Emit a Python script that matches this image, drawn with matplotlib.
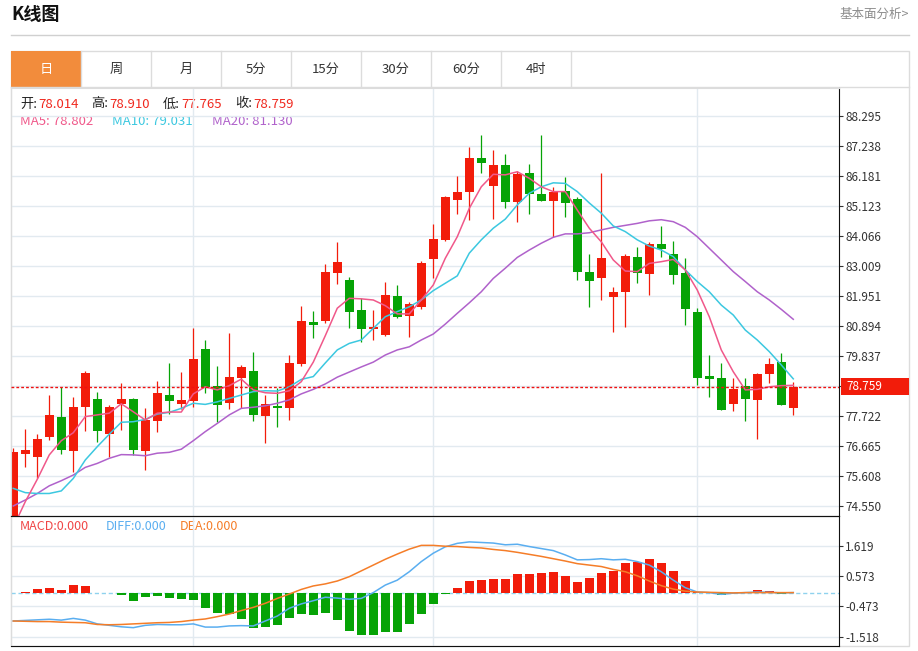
import matplotlib
matplotlib.use('Agg')
import matplotlib.pyplot as plt
import matplotlib.transforms as mtrans
from matplotlib.patches import Rectangle
import numpy as np

plt.rcParams['font.family'] = ['Noto Sans CJK SC', 'DejaVu Sans']

# K线数据 (日线)
opens = [74.00, 76.39, 76.28, 76.97, 77.69, 76.49, 78.04, 78.33, 77.09, 78.15,
         78.32, 76.49, 77.54, 78.45, 78.14, 78.25, 80.07, 78.77, 78.18, 79.05,
         79.30, 77.72, 78.07, 77.99, 79.56, 81.02, 81.06, 82.75, 82.51, 81.47,
         80.80, 80.58, 81.95, 81.25, 81.57, 83.27, 83.92, 85.34, 85.62, 86.82,
         85.83, 86.58, 85.25, 86.30, 85.56, 85.31, 85.66, 85.37, 82.79, 82.59,
         81.93, 82.10, 83.33, 82.74, 83.78, 83.43, 82.76, 81.40, 79.13, 79.07,
         78.13, 78.79, 78.27, 79.19, 79.61, 78.014]
highs = [76.59, 77.26, 77.08, 78.46, 78.75, 78.40, 79.31, 78.57, 78.11, 78.89,
         78.37, 78.00, 78.95, 79.59, 79.26, 80.82, 80.39, 79.47, 80.66, 79.52,
         79.98, 78.45, 78.70, 79.88, 81.60, 81.41, 83.07, 83.85, 82.63, 81.89,
         81.45, 82.44, 82.34, 81.74, 83.20, 84.48, 85.47, 86.18, 87.19, 87.61,
         87.10, 86.97, 86.36, 86.61, 87.63, 85.80, 86.16, 85.45, 83.43, 86.28,
         82.26, 83.42, 83.69, 83.84, 84.42, 83.89, 83.28, 81.54, 79.86, 79.58,
         79.07, 79.07, 79.25, 79.77, 79.95, 78.910]
lows = [73.90, 75.92, 75.52, 76.87, 76.37, 75.76, 77.19, 76.82, 76.29, 77.22,
        76.34, 75.82, 77.16, 77.78, 77.96, 78.04, 78.54, 77.52, 77.98, 78.01,
        77.56, 76.78, 77.33, 77.59, 79.48, 80.48, 81.01, 82.38, 80.83, 80.32,
        80.40, 80.54, 81.18, 80.52, 81.49, 82.60, 83.89, 84.84, 84.63, 86.30,
        84.68, 85.06, 84.55, 84.83, 85.30, 84.02, 84.74, 82.51, 81.55, 81.81,
        80.69, 80.86, 82.42, 81.99, 83.34, 82.38, 80.94, 78.81, 78.39, 77.93,
        77.90, 77.54, 76.90, 78.89, 78.11, 77.765]
closes = [76.45, 76.52, 76.92, 77.76, 76.52, 78.05, 79.23, 77.18, 78.03, 78.32,
          76.51, 77.59, 78.52, 78.25, 78.27, 79.74, 78.74, 78.11, 79.10, 79.45,
          77.77, 78.13, 77.99, 79.59, 81.06, 80.94, 82.81, 83.14, 81.40, 80.78,
          80.86, 81.99, 81.22, 81.68, 83.10, 83.97, 85.44, 85.63, 86.83, 86.64,
          86.56, 85.27, 86.26, 85.56, 85.31, 85.63, 85.24, 82.81, 82.48, 83.29,
          82.10, 83.36, 82.77, 83.77, 83.60, 82.69, 81.48, 79.07, 79.01, 77.94,
          78.66, 78.32, 79.20, 79.55, 78.12, 78.759]

ma5 = [73.80, 74.70, 75.49, 76.35, 76.85, 77.13, 77.70, 77.76, 77.82, 78.15,
       77.87, 77.58, 77.82, 77.86, 77.86, 78.50, 78.75, 78.64, 78.79, 79.02,
       78.64, 78.54, 78.52, 78.61, 78.93, 79.62, 80.55, 81.52, 81.87, 81.85,
       81.81, 81.61, 81.32, 81.32, 81.81, 82.34, 83.28, 84.04, 85.04, 85.80,
       86.24, 86.22, 86.33, 86.10, 85.80, 85.63, 85.63, 84.98, 84.34, 83.86,
       83.22, 82.83, 82.81, 83.10, 83.16, 83.24, 82.87, 82.16, 81.22, 80.05,
       79.28, 78.64, 78.66, 78.75, 78.79, 78.802]
ma10 = [75.17, 75.02, 74.99, 74.99, 75.08, 75.52, 76.17, 76.64, 77.08, 77.50,
        77.52, 77.60, 77.79, 77.85, 77.99, 78.17, 78.13, 78.22, 78.34, 78.46,
        78.58, 78.61, 78.60, 78.75, 79.01, 79.11, 79.59, 80.05, 80.28, 80.40,
        80.81, 81.22, 81.40, 81.57, 81.81, 82.14, 82.40, 82.66, 83.46, 83.93,
        84.34, 84.66, 85.16, 85.57, 85.80, 85.94, 85.92, 85.63, 85.23, 84.87,
        84.42, 84.22, 83.93, 83.71, 83.57, 83.34, 82.87, 82.46, 82.10, 81.63,
        81.28, 80.75, 80.40, 79.99, 79.52, 79.031]
ma20 = [74.55, 74.76, 74.99, 75.26, 75.44, 75.64, 75.91, 76.05, 76.23, 76.36,
        76.35, 76.32, 76.41, 76.44, 76.55, 76.85, 77.17, 77.46, 77.76, 77.99,
        78.03, 78.08, 78.17, 78.29, 78.50, 78.66, 78.85, 79.09, 79.27, 79.45,
        79.62, 79.87, 80.05, 80.16, 80.40, 80.61, 80.96, 81.34, 81.71, 82.10,
        82.57, 82.93, 83.31, 83.57, 83.81, 84.02, 84.14, 84.14, 84.18, 84.28,
        84.37, 84.44, 84.51, 84.60, 84.64, 84.57, 84.37, 84.04, 83.63, 83.22,
        82.81, 82.46, 82.10, 81.81, 81.48, 81.13]

# MACD
macd_bar = [0.00, 0.03, 0.11, 0.16, 0.10, 0.26, 0.24, -0.02, 0.00, -0.09,
            -0.28, -0.15, -0.11, -0.20, -0.23, -0.26, -0.52, -0.69, -0.74, -0.92,
            -1.21, -1.19, -1.11, -0.89, -0.75, -0.77, -0.71, -0.95, -1.32, -1.46,
            -1.46, -1.37, -1.36, -1.09, -0.73, -0.39, -0.05, 0.15, 0.39, 0.44,
            0.47, 0.47, 0.64, 0.64, 0.68, 0.70, 0.57, 0.38, 0.49, 0.69,
            0.76, 1.01, 1.07, 1.16, 1.02, 0.73, 0.40, 0.01, 0.00, -0.09,
            -0.01, 0.00, 0.08, 0.05, -0.05, 0.00]
diff = [-0.98, -0.96, -0.94, -0.92, -0.95, -0.89, -0.95, -1.08, -1.13, -1.18,
        -1.21, -1.13, -1.10, -1.11, -1.11, -1.08, -1.19, -1.19, -1.15, -1.14,
        -1.15, -0.98, -0.81, -0.54, -0.39, -0.28, -0.16, -0.19, -0.23, -0.20,
        0.00, 0.26, 0.43, 0.72, 1.07, 1.36, 1.58, 1.70, 1.75, 1.73,
        1.71, 1.65, 1.67, 1.59, 1.52, 1.45, 1.30, 1.13, 1.14, 1.17,
        1.13, 1.15, 1.07, 0.95, 0.72, 0.43, 0.17, 0.02, 0.00, -0.06,
        -0.02, 0.00, 0.02, 0.01, -0.01, 0.00]
dea = [-0.98, -0.99, -1.00, -1.00, -1.02, -1.03, -1.04, -1.10, -1.11, -1.10,
       -1.08, -1.06, -1.04, -1.03, -1.00, -0.95, -0.91, -0.83, -0.74, -0.62,
       -0.51, -0.37, -0.20, -0.05, 0.11, 0.23, 0.30, 0.40, 0.55, 0.75,
       0.95, 1.15, 1.33, 1.50, 1.63, 1.63, 1.60, 1.59, 1.56, 1.54,
       1.49, 1.45, 1.39, 1.32, 1.25, 1.17, 1.09, 1.00, 0.95, 0.90,
       0.80, 0.72, 0.58, 0.40, 0.24, 0.12, 0.05, 0.02, 0.01, 0.00,
       -0.01, 0.00, 0.00, 0.00, 0.00, 0.00]

price_ticks = [88.295, 87.238, 86.181, 85.123, 84.066, 83.009, 81.951, 80.894,
               79.837, 78.780, 77.722, 76.665, 75.608, 74.550]
macd_ticks = [1.619, 0.573, -0.473, -1.518]
tabs = ['日', '周', '月', '5分', '15分', '30分', '60分', '4时']
last_price = 78.759
info_ohlc = [('开:', '78.014'), ('高:', '78.910'), ('低:', '77.765'), ('收:', '78.759')]
info_ma = ['MA5: 78.802', 'MA10: 79.031', 'MA20: 81.130']
info_macd = ['MACD:0.000', 'DIFF:0.000', 'DEA:0.000']

RED = '#f21c0a'
GREEN = '#06a306'
C_MA5 = '#f0588a'
C_MA10 = '#3cc8e0'
C_MA20 = '#b062cb'
C_DIFF = '#5aaef0'
C_DEA = '#f57d28'
GRID = '#e2eaf0'
BORDER = '#dcdcdc'

fig = plt.figure(figsize=(9.18, 6.51), dpi=100)

# 页面框架 (像素坐标)
bg = fig.add_axes([0, 0, 1, 1])
bg.set_xlim(0, 918)
bg.set_ylim(651, 0)
bg.axis('off')
bg.text(11, 15, 'K线图', fontsize=13, fontweight='bold', ha='left', va='center', color='#111111')
bg.text(909, 14, '基本面分析>', fontsize=9, ha='right', va='center', color='#8c8c8c')
bg.plot([11, 909], [35, 35], color='#d0d0d0', lw=1)
bg.add_patch(Rectangle((11, 51), 898, 595, fill=False, ec=BORDER, lw=1))
bg.add_patch(Rectangle((11, 51), 70, 36, fc='#f28c3c', ec='none'))
bg.plot([11, 909], [87, 87], color=BORDER, lw=1)
for k, t in enumerate(tabs):
    bg.plot([81 + 70 * k] * 2, [51, 87], color=BORDER, lw=1)
    bg.text(46 + 70 * k, 69.5, t, fontsize=9.5, ha='center', va='center',
            color='white' if k == 0 else '#333333')

# 信息栏
xs = [20, 91, 163, 235]
for (lab, val), px in zip(info_ohlc, xs):
    bg.text(px, 104, lab, fontsize=9.5, color='#222222', va='center')
    bg.text(px + 18, 104, val, fontsize=9.5, color='#f0281e', va='center')
for t, px, col in zip(info_ma, [20, 112, 212], [C_MA5, C_MA10, C_MA20]):
    bg.text(px, 121.5, t, fontsize=9.5, color=col, va='center')
for t, px, col in zip(info_macd, [20, 106, 180], ['#f04646', C_DIFF, C_DEA]):
    bg.text(px, 527, t, fontsize=9, color=col, va='center')

# 主图
n = len(closes)
x = np.arange(n)
o = np.array(opens)
c = np.array(closes)
cols = [RED if c[i] >= o[i] else GREEN for i in range(n)]

ax = fig.add_axes([11 / 918, 1 - 516 / 651, 828 / 918, 428 / 651])
ax.patch.set_visible(False)
ax.vlines(x, lows, highs, colors=cols, lw=0.9, zorder=2)
ax.bar(x, np.maximum(np.abs(c - o), 0.04), bottom=np.minimum(o, c), width=0.75,
       color=cols, zorder=2)
ax.plot(x, ma20, color=C_MA20, lw=1.1, zorder=3)
ax.plot(x, ma10, color=C_MA10, lw=1.1, zorder=3)
ax.plot(x, ma5, color=C_MA5, lw=1.1, zorder=3)
ax.axhline(last_price, color='#f01010', lw=1, ls=(0, (2, 1.5)), zorder=4)

ax.set_xlim(-0.19, 68.81)
ax.set_ylim(74.196, 89.282)
ax.yaxis.tick_right()
ax.set_yticks(price_ticks)
ax.set_yticklabels(['' if abs(v - 78.78) < 1e-6 else '%.3f' % v for v in price_ticks])
ax.set_xticks([15, 35, 57])
ax.set_xticklabels([])
ax.tick_params(axis='x', length=0)
ax.tick_params(axis='y', length=3, width=0.8, pad=1.5, labelsize=8.5, colors='#333333')
ax.grid(True, color=GRID, lw=1)
ax.set_axisbelow(True)
for s in ['top', 'left']:
    ax.spines[s].set_color(BORDER)
for s in ['right', 'bottom']:
    ax.spines[s].set_color('#111111')

trans = mtrans.blended_transform_factory(ax.transAxes, ax.transData)
ax.add_patch(Rectangle((1.0024, last_price - 0.3), 0.0821, 0.6, transform=trans,
                       clip_on=False, fc=RED, ec='none', zorder=5))
ax.text(1.009, last_price, '%.3f' % last_price, transform=trans, color='white',
        fontsize=8.5, va='center', ha='left', zorder=6)

# MACD
ax2 = fig.add_axes([11 / 918, 1 - 646 / 651, 828 / 918, 130 / 651])
ax2.patch.set_visible(False)
bcols = [RED if v >= 0 else GREEN for v in macd_bar]
ax2.bar(x, macd_bar, width=0.75, color=bcols, zorder=2)
ax2.axhline(0, color='#8fd2ee', lw=1, ls=(0, (3, 2)), zorder=1)
ax2.plot(x, diff, color=C_DIFF, lw=1.1, zorder=3)
ax2.plot(x, dea, color=C_DEA, lw=1.1, zorder=3)
ax2.set_xlim(-0.19, 68.81)
ax2.set_ylim(-1.843, 2.644)
ax2.yaxis.tick_right()
ax2.set_yticks(macd_ticks)
ax2.set_yticklabels(['%.3f' % v for v in macd_ticks])
ax2.set_xticks([15, 35, 57])
ax2.set_xticklabels([])
ax2.tick_params(axis='x', length=0)
ax2.tick_params(axis='y', length=3, width=0.8, pad=1.5, labelsize=8.5, colors='#333333')
ax2.grid(True, color=GRID, lw=1)
ax2.set_axisbelow(True)
ax2.spines['left'].set_color(BORDER)
for s in ['right', 'bottom', 'top']:
    ax2.spines[s].set_color('#111111')

fig.savefig('out.png', dpi=100)
